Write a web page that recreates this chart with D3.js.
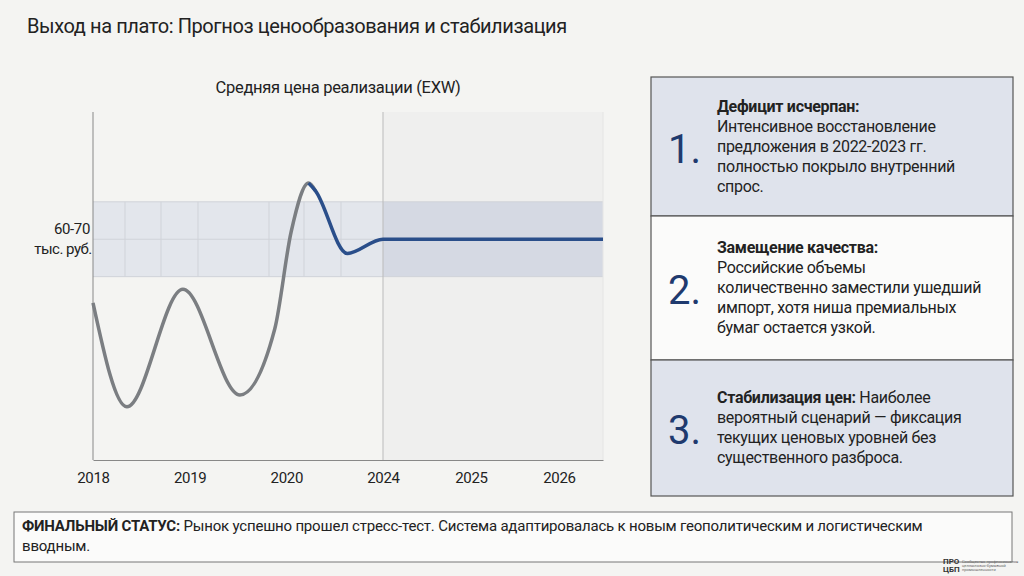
<!DOCTYPE html>
<html><head><meta charset="utf-8">
<script src="https://cdn.jsdelivr.net/npm/d3@7"></script>
<style>body{margin:0;background:#f4f4f2;}text{font-family:Roboto,sans-serif;}</style>
</head><body><svg id="c" width="1024" height="576"></svg>
<script>
const tickLabels=["2018","2019","2020","2024","2025","2026"];
const tickIdx=[0,1,2,3,4,5];
const histT=[0,0.35,0.93,1.52,1.88,2.05,2.23,2.3];
const histV=[56.5,42.6,58.3,44.2,53,66,72.5,71.5];
const foreT=[2.3,2.63,3,5.5];
const foreV=[71.5,63.1,65,65];
const bandLo=60, bandHi=70;
const cards=[
 {n:"1.",head:"Дефицит исчерпан:",lines:["Интенсивное восстановление","предложения в 2022-2023 гг.","полностью покрыло внутренний","спрос."]},
 {n:"2.",head:"Замещение качества:",lines:["Российские объемы","количественно заместили ушедший","импорт, хотя ниша премиальных","бумаг остается узкой."]},
 {n:"3.",head:"Стабилизация цен:",lines:["вероятный сценарий — фиксация","текущих ценовых уровней без","существенного разброса."],tail:" Наиболее"}
];
const svg=d3.select("#c");
svg.append("text").attr("x",27).attr("y",33).attr("font-size",20).attr("letter-spacing",-0.4).attr("fill","#222").text("Выход на плато: Прогноз ценообразования и стабилизация");
svg.append("text").attr("x",338).attr("y",93).attr("text-anchor","middle").attr("font-size",16.5).attr("letter-spacing",-0.3).attr("fill","#222").text("Средняя цена реализации (EXW)");
const x=d3.scaleLinear().domain([0,3,5.5]).range([93,383,603]);
const y=d3.scaleLinear().domain([35.5,82]).range([460,112]);
svg.append("rect").attr("x",x(3)).attr("y",y(82)).attr("width",x(5.5)-x(3)).attr("height",y(35.5)-y(82)).attr("fill","#efefee");
svg.append("rect").attr("x",x(0)).attr("y",y(bandHi)).attr("width",x(3)-x(0)).attr("height",y(bandLo)-y(bandHi)).attr("fill","#e3e6ec");
svg.append("rect").attr("x",x(3)).attr("y",y(bandHi)).attr("width",x(5.5)-x(3)).attr("height",y(bandLo)-y(bandHi)).attr("fill","#d5d9e3");
[125,161,198,269,304,341].forEach(px=>svg.append("line").attr("x1",px).attr("x2",px).attr("y1",y(bandHi)).attr("y2",y(bandLo)).attr("stroke","#d0d3d9"));
svg.append("line").attr("x1",x(0)).attr("x2",x(3)).attr("y1",y(65)).attr("y2",y(65)).attr("stroke","#d0d3d9");
[bandHi,bandLo].forEach(v=>svg.append("line").attr("x1",x(0)).attr("x2",x(5.5)).attr("y1",y(v)).attr("y2",y(v)).attr("stroke","#d0d3d9"));
svg.append("line").attr("x1",x(3)).attr("x2",x(3)).attr("y1",y(82)).attr("y2",y(35.5)).attr("stroke","#bbb");
svg.append("line").attr("x1",x(5.5)).attr("x2",x(5.5)).attr("y1",y(82)).attr("y2",y(35.5)).attr("stroke","#e4e4e4");
svg.append("line").attr("x1",x(0)).attr("x2",x(0)).attr("y1",y(82)).attr("y2",y(35.5)).attr("stroke","#888");
const ax=svg.append("g").attr("transform",`translate(0,${y(35.5)})`).call(d3.axisBottom(x).tickValues(tickIdx).tickFormat((d,i)=>tickLabels[i]).tickSize(0).tickPadding(12));
ax.select(".domain").attr("stroke","#888");
ax.selectAll("text").attr("font-size",15).attr("fill","#222").attr("font-family","Roboto, sans-serif").attr("letter-spacing",-0.3);
svg.append("text").attr("x",72).attr("y",234).attr("text-anchor","middle").attr("font-size",15).attr("letter-spacing",-0.4).attr("fill","#222").text("60-70");
svg.append("text").attr("x",63).attr("y",254).attr("text-anchor","middle").attr("font-size",15).attr("letter-spacing",-0.5).attr("fill","#222").text("тыс. руб.");
const line=d3.line().x(d=>x(d[0])).y(d=>y(d[1])).curve(d3.curveMonotoneX);
const all=histT.map((t,i)=>[t,histV[i]]).concat(foreT.slice(1).map((t,i)=>[t,foreV[i+1]]));
svg.append("path").attr("d",line(all.filter(d=>d[0]<=2.3))).attr("fill","none").attr("stroke","#7b7e82").attr("stroke-width",3.5);
svg.append("path").attr("d",line(all.filter(d=>d[0]>=2.23))).attr("fill","none").attr("stroke","#2a4e8a").attr("stroke-width",3.5);
const ys=[77,216,360,496];
cards.forEach((c,i)=>{
 const g=svg.append("g");
 g.append("rect").attr("x",651).attr("y",ys[i]).attr("width",362).attr("height",ys[i+1]-ys[i]).attr("fill",i==1?"#fbfbfa":"#dfe3ec").attr("stroke","#555").attr("stroke-width",1.2);
 const h=ys[i+1]-ys[i];
 g.append("text").attr("x",668).attr("y",ys[i]+h/2+16).attr("font-family","DejaVu Serif, serif").attr("font-size",40).attr("fill","#1f3a6e").text(c.n);
 const total=c.lines.length+1, y0=ys[i]+h/2-(total-1)*10+5;
 const t=g.append("text").attr("x",717).attr("y",y0).attr("font-size",16).attr("letter-spacing",-0.3).attr("fill","#222");
 t.append("tspan").attr("font-weight","bold").text(c.head);
 if(c.tail) t.append("tspan").text(c.tail);
 c.lines.forEach((l,j)=>g.append("text").attr("x",717).attr("y",y0+20*(j+1)).attr("font-size",16).attr("letter-spacing",-0.3).attr("fill","#222").text(l));
});
svg.append("rect").attr("x",14).attr("y",512).attr("width",998).attr("height",50).attr("fill","#fbfbfa").attr("stroke","#777");
const ft=svg.append("text").attr("x",22).attr("y",531).attr("font-size",15).attr("letter-spacing",-0.2).attr("fill","#222");
ft.append("tspan").attr("font-weight","bold").text("ФИНАЛЬНЫЙ СТАТУС:");
ft.append("tspan").text(" Рынок успешно прошел стресс-тест. Система адаптировалась к новым геополитическим и логистическим");
svg.append("text").attr("x",22).attr("y",551).attr("font-size",15).attr("letter-spacing",-0.2).attr("fill","#222").text("вводным.");
svg.append("text").attr("x",943).attr("y",564).attr("font-size",8).attr("font-weight","bold").attr("fill","#333").text("ПРО");
svg.append("text").attr("x",943).attr("y",572).attr("font-size",8).attr("font-weight","bold").attr("fill","#333").text("ЦБП");
svg.append("text").attr("x",962).attr("y",563).attr("font-size",4).attr("fill","#666").text("Сообщество профессионалов");
svg.append("text").attr("x",962).attr("y",567).attr("font-size",4).attr("fill","#666").text("целлюлозно-бумажной");
svg.append("text").attr("x",962).attr("y",571).attr("font-size",4).attr("fill","#666").text("промышленности");
</script></body></html>
